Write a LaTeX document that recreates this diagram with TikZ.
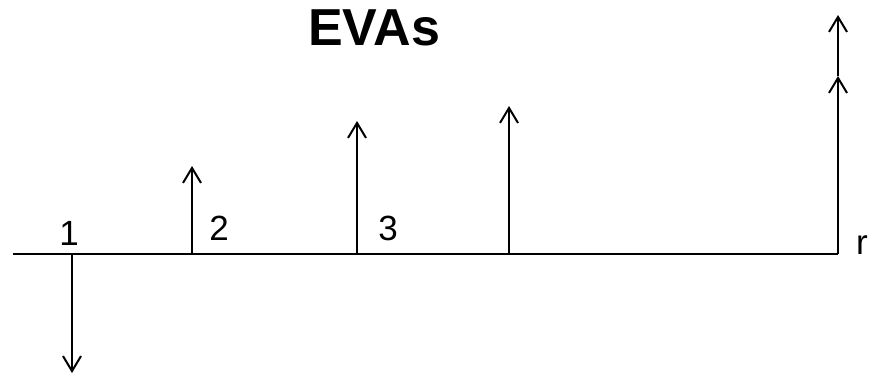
\documentclass[tikz,border=0pt]{standalone}
\usepackage{fontspec}
\setmainfont{Liberation Sans}
\usetikzlibrary{arrows.meta}
\begin{document}
\begin{tikzpicture}[x=1pt,y=-1pt,
  flow/.style={line width=2pt,-{Straight Barb[length=15pt,width=18pt,line width=2pt]}},
  axisline/.style={line width=2pt},
  lbl/.style={font=\fontsize{35}{40}\selectfont,inner sep=0pt},
  ttl/.style={font=\fontsize{52}{60}\selectfont\bfseries,inner sep=0pt}]
\useasboundingbox (0,0) rectangle (870,375);
\coordinate (a0) at (13,254);
\coordinate (a1) at (838,254);
\draw[axisline] (a0) -- (a1);
\coordinate (b1) at (72,254);   \coordinate (t1) at (72,373);
\coordinate (b2) at (192,254);  \coordinate (t2) at (192,166);
\coordinate (b3) at (357,254);  \coordinate (t3) at (357,121);
\coordinate (b4) at (509,254);  \coordinate (t4) at (509,106);
\coordinate (m5) at (838,76);   \coordinate (t5) at (838,15);
\draw[flow] (b1) -- (t1);
\draw[flow] (b2) -- (t2);
\draw[flow] (b3) -- (t3);
\draw[flow] (b4) -- (t4);
\draw[flow] (a1) -- (m5);
\draw[flow] (m5) -- (t5);
\node[lbl] (l1) at (69,233) {1};
\node[lbl] (l2) at (219,228) {2};
\node[lbl] (l3) at (388,228) {3};
\node[lbl] (lr) at (862,245) {r};
\node[ttl] (title) at (374,28) {EVAs};
\end{tikzpicture}
\end{document}
